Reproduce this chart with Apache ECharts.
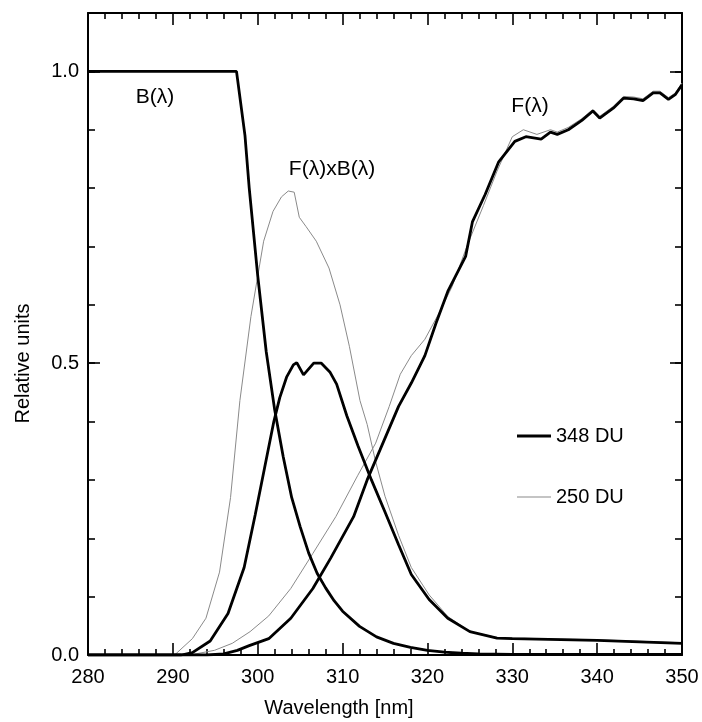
<!DOCTYPE html>
<html><head><meta charset="utf-8">
<script src="https://cdn.jsdelivr.net/npm/echarts@6/dist/echarts.min.js"></script>
<style>html,body{margin:0;padding:0;background:#fff}#c{width:702px;height:722px}</style>
</head><body><div id="c"></div>
<script>
// ---- data ----
const xTicks = [280, 290, 300, 310, 320, 330, 340, 350];
const yTicks = [0.0, 0.5, 1.0];

// B(lambda) action spectrum
const bWl  = [280, 297.5, 298.5, 299, 300, 301, 302, 303, 304, 305, 306, 307, 308, 309, 310, 312, 314, 316, 318, 320, 322, 324, 326, 330, 340, 350];
const bVal = [1.0, 1.0, 0.89, 0.80, 0.65, 0.52, 0.42, 0.34, 0.27, 0.22, 0.175, 0.14, 0.115, 0.093, 0.075, 0.049, 0.031, 0.020, 0.013, 0.008, 0.005, 0.003, 0.002, 0.001, 0.001, 0.001];

// F(lambda), 348 DU
const f348Wl  = [280, 294, 296, 297.6, 299, 301.3, 303.9, 306.5, 308.6, 311.3, 312.9, 314.4, 316.6, 318.1, 319.7, 321.0, 322.4, 324.5, 325.3, 326.8, 328.4, 330.3, 331.6, 333.4, 334.5, 335.3, 336.6, 338.2, 339.5, 340.3, 341.9, 343.1, 344.3, 345.4, 346.6, 347.4, 348.4, 349.2, 350];
const f348Val = [0, 0, 0.002, 0.008, 0.016, 0.028, 0.063, 0.114, 0.166, 0.237, 0.300, 0.351, 0.426, 0.466, 0.513, 0.568, 0.623, 0.683, 0.742, 0.789, 0.845, 0.880, 0.888, 0.884, 0.896, 0.892, 0.900, 0.916, 0.932, 0.920, 0.937, 0.954, 0.953, 0.950, 0.963, 0.963, 0.952, 0.960, 0.977];

// F(lambda), 250 DU
const f250Wl  = [280, 292, 294.9, 297.0, 299.1, 301.3, 303.9, 306.5, 309.2, 311.8, 313.9, 315.5, 316.8, 318.1, 319.7, 321.3, 322.9, 324.7, 326.6, 328.2, 330.0, 331.3, 332.9, 334.5, 335.3, 336.6, 338.2, 339.5, 340.3, 341.9, 343.1, 344.3, 345.4, 346.6, 347.4, 348.4, 349.2, 350];
const f250Val = [0, 0, 0.008, 0.020, 0.040, 0.067, 0.114, 0.174, 0.237, 0.308, 0.363, 0.426, 0.481, 0.513, 0.541, 0.584, 0.631, 0.702, 0.770, 0.829, 0.888, 0.900, 0.892, 0.900, 0.896, 0.904, 0.919, 0.935, 0.923, 0.940, 0.957, 0.956, 0.953, 0.966, 0.966, 0.955, 0.963, 0.980];

// F(lambda) x B(lambda), 348 DU
const fb348Wl  = [280, 291, 292.3, 294.4, 296.5, 298.4, 299.7, 300.8, 301.9, 302.6, 303.4, 304.2, 304.6, 305.4, 306.6, 307.5, 308.5, 309.3, 310.5, 311.8, 313.4, 315.0, 316.6, 318.1, 320.2, 322.4, 325.0, 328.2, 330, 340, 350];
const fb348Val = [0, 0, 0.004, 0.024, 0.071, 0.150, 0.240, 0.320, 0.400, 0.441, 0.476, 0.497, 0.501, 0.480, 0.500, 0.500, 0.485, 0.464, 0.410, 0.359, 0.300, 0.245, 0.189, 0.138, 0.095, 0.063, 0.040, 0.029, 0.028, 0.025, 0.020];

// F(lambda) x B(lambda), 250 DU
const fb250Wl  = [280, 290.2, 292.3, 293.9, 295.5, 296.8, 297.9, 299.2, 300.7, 301.8, 302.8, 303.6, 304.3, 304.9, 305.7, 306.9, 308.4, 309.7, 310.8, 312.05, 312.9, 313.9, 315.0, 316.6, 318.1, 320.2, 322.4, 325, 328.2, 330, 340, 350];
const fb250Val = [0, 0, 0.028, 0.063, 0.142, 0.270, 0.436, 0.580, 0.709, 0.760, 0.785, 0.795, 0.793, 0.750, 0.734, 0.709, 0.663, 0.600, 0.529, 0.436, 0.395, 0.331, 0.272, 0.205, 0.150, 0.103, 0.066, 0.040, 0.030, 0.029, 0.026, 0.021];

const seriesNames = ['348 DU', '250 DU'];
const annotations = ['B(λ)', 'F(λ)xB(λ)', 'F(λ)'];

function pairs(xs, ys) { return xs.map((x, i) => [x, ys[i]]); }

const FONT = '"Liberation Sans", Arial, Helvetica, sans-serif';
const THICK = { color: '#000', width: 2.8 };
const THIN = { color: '#8a8a8a', width: 1 };

const chart = echarts.init(document.getElementById('c'), null, { renderer: 'canvas' });

function xAx(pos, labels) {
  return {
    type: 'value', position: pos, min: 280, max: 350, interval: 10,
    axisLine: { show: true, onZero: false, lineStyle: { color: '#000', width: 2 } },
    axisTick: { show: true, inside: true, length: 12, lineStyle: { color: '#000', width: 1.6 } },
    minorTick: { show: true, splitNumber: 5, length: 6, lineStyle: { color: '#000', width: 1.6 } },
    axisLabel: labels ? { show: true, margin: 12, fontSize: 20, color: '#000', fontFamily: FONT,
      formatter: v => xTicks.includes(v) ? String(v) : '' } : { show: false },
    splitLine: { show: false }, minorSplitLine: { show: false }
  };
}
function yAx(pos, interval, len, labels, line) {
  return {
    type: 'value', position: pos, min: 0, max: 1.1, interval: interval,
    axisLine: { show: line, onZero: false, lineStyle: { color: '#000', width: 2 } },
    axisTick: { show: true, inside: true, length: len, lineStyle: { color: '#000', width: 1.6 } },
    axisLabel: labels ? { show: true, margin: 9, fontSize: 20, color: '#000', fontFamily: FONT,
      showMaxLabel: false,
      formatter: v => yTicks.some(t => Math.abs(t - v) < 1e-9) ? v.toFixed(1) : '' } : { show: false },
    splitLine: { show: false }
  };
}

const option = {
  animation: false,
  backgroundColor: '#fff',
  grid: { left: 88, right: 20, top: 13, bottom: 67, containLabel: false },
  xAxis: [xAx('bottom', true), xAx('top', false)],
  yAxis: [
    yAx('left', 0.5, 12, true, true),
    yAx('left', 0.1, 7, false, false),
    yAx('right', 0.5, 12, false, true),
    yAx('right', 0.1, 7, false, false)
  ],
  legend: [
    { data: [seriesNames[0]], left: 512, top: 421, icon: 'rect', itemWidth: 34, itemHeight: 3, itemGap: 0,
      textStyle: { fontSize: 20, color: '#000', fontFamily: FONT }, selectedMode: false },
    { data: [seriesNames[1]], left: 512, top: 482, icon: 'rect', itemWidth: 34, itemHeight: 1, itemGap: 0,
      textStyle: { fontSize: 20, color: '#000', fontFamily: FONT }, selectedMode: false }
  ],
  series: [
    { name: seriesNames[1], type: 'line', symbol: 'none', data: pairs(f250Wl, f250Val), lineStyle: THIN, itemStyle: { color: THIN.color }, z: 2 },
    { name: seriesNames[1], type: 'line', symbol: 'none', data: pairs(fb250Wl, fb250Val), lineStyle: THIN, itemStyle: { color: THIN.color }, z: 2 },
    { name: seriesNames[0], type: 'line', symbol: 'none', data: pairs(f348Wl, f348Val), lineStyle: THICK, itemStyle: { color: '#000' }, z: 3 },
    { name: seriesNames[0], type: 'line', symbol: 'none', data: pairs(fb348Wl, fb348Val), lineStyle: THICK, itemStyle: { color: '#000' }, z: 3 },
    { name: 'B(λ)', type: 'line', symbol: 'none', data: pairs(bWl, bVal), lineStyle: THICK, itemStyle: { color: '#000' }, z: 3 }
  ],
  graphic: [
    { type: 'text', x: 155, y: 97.5, style: { text: annotations[0], font: '21px ' + FONT, fill: '#000', textAlign: 'center', textVerticalAlign: 'middle' } },
    { type: 'text', x: 332, y: 169, style: { text: annotations[1], font: '21px ' + FONT, fill: '#000', textAlign: 'center', textVerticalAlign: 'middle' } },
    { type: 'text', x: 530, y: 106, style: { text: annotations[2], font: '21px ' + FONT, fill: '#000', textAlign: 'center', textVerticalAlign: 'middle' } },
    { type: 'text', x: 339, y: 708, style: { text: 'Wavelength [nm]', font: '20px ' + FONT, fill: '#000', textAlign: 'center', textVerticalAlign: 'middle' } },
    { type: 'text', x: 23.5, y: 363.5, rotation: Math.PI / 2, style: { text: 'Relative units', font: '20px ' + FONT, fill: '#000', textAlign: 'center', textVerticalAlign: 'middle' } }
  ]
};
chart.setOption(option);
</script>
</body></html>
